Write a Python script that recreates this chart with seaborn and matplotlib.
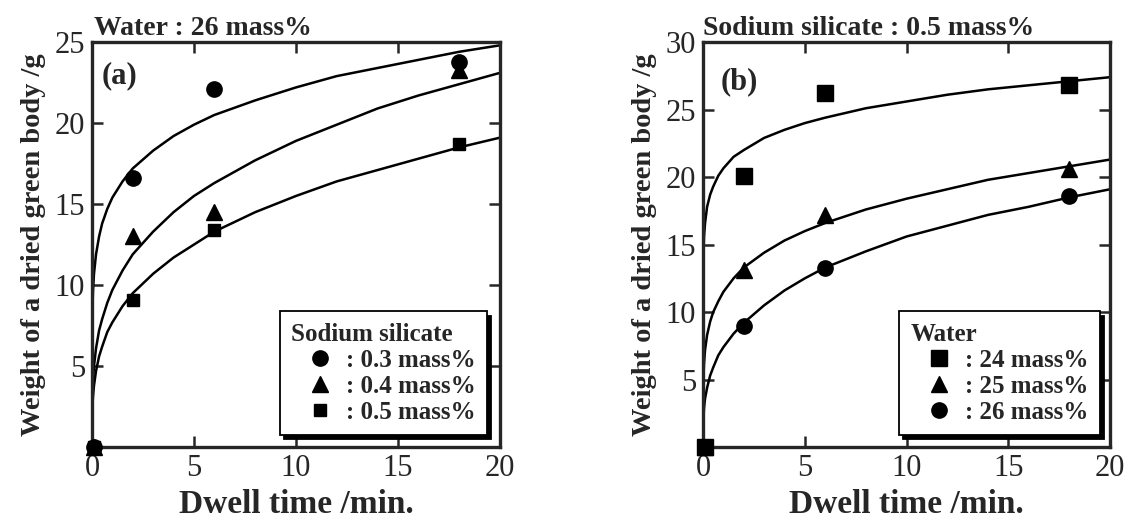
import numpy as np
import pandas as pd
import matplotlib
matplotlib.use('Agg')
import matplotlib.pyplot as plt
from matplotlib.lines import Line2D
import seaborn as sns

sns.set_style('ticks')
plt.rcParams['font.family'] = ['Liberation Serif', 'DejaVu Serif']

# measured points (dwell time in min, weight in g)
t_pts = [0.1, 2, 6, 18]

# (a) water 26 mass%, sodium silicate 0.3 / 0.4 / 0.5 mass%
a_03 = [0, 16.6, 22.1, 23.8]
a_04 = [0, 13.0, 14.5, 23.3]
a_05 = [0, 9.1, 13.4, 18.7]

# (b) sodium silicate 0.5 mass%, water 24 / 25 / 26 mass%
b_24 = [0, 20.1, 26.2, 26.8]
b_25 = [0, 13.1, 17.2, 20.6]
b_26 = [0, 9.0, 13.3, 18.6]

# fitted curves
t_fit = [0, 0.005, 0.02, 0.05, 0.1, 0.2, 0.35, 0.5, 0.75, 1, 1.5, 2, 3, 4, 5,
         6, 8, 10, 12, 14, 16, 18, 20]
fit_a03 = [0, 6.6, 8.3, 9.6, 10.7, 11.9, 13.0, 13.8, 14.7, 15.4, 16.4, 17.2,
           18.3, 19.2, 19.9, 20.5, 21.4, 22.2, 22.9, 23.4, 23.9, 24.4, 24.8]
fit_a04 = [0, 2.1, 3.1, 4.1, 5.0, 6.1, 7.2, 7.9, 8.9, 9.7, 10.9, 11.9,
           13.3, 14.5, 15.5, 16.3, 17.7, 18.9, 19.9, 20.9, 21.7, 22.4, 23.1]
fit_a05 = [0, 1.5, 2.4, 3.1, 3.8, 4.7, 5.6, 6.2, 7.1, 7.7, 8.7, 9.5,
           10.7, 11.7, 12.5, 13.3, 14.5, 15.5, 16.4, 17.1, 17.8, 18.5, 19.1]
fit_b24 = [0, 12.6, 14.3, 15.6, 16.6, 17.8, 18.7, 19.3, 20.1, 20.65, 21.5, 22.0,
           22.9, 23.5, 24.0, 24.4, 25.1, 25.6, 26.1, 26.5, 26.8, 27.1, 27.4]
fit_b25 = [0, 3.9, 5.2, 6.2, 7.2, 8.3, 9.3, 10.0, 10.8, 11.5, 12.5, 13.3,
           14.4, 15.3, 16.0, 16.6, 17.6, 18.4, 19.1, 19.8, 20.3, 20.8, 21.3]
fit_b26 = [0, 1.4, 2.1, 2.9, 3.6, 4.4, 5.3, 5.9, 6.8, 7.4, 8.4, 9.2,
           10.5, 11.6, 12.5, 13.3, 14.5, 15.6, 16.4, 17.2, 17.8, 18.5, 19.1]

legend_a = [': 0.3 mass%', ': 0.4 mass%', ': 0.5 mass%']
legend_b = [': 24 mass%', ': 25 mass%', ': 26 mass%']

fig = plt.figure(figsize=(11.31, 5.26), dpi=100)
ax1 = fig.add_axes([0.0813, 0.150, 0.3607, 0.770])
ax2 = fig.add_axes([0.6216, 0.150, 0.3600, 0.770])


def draw_panel(ax, fits, pts, markers, sizes, order):
    for f in fits:
        sns.lineplot(x=t_fit, y=f, ax=ax, color='black', linewidth=1.8,
                     sort=False, estimator=None)
    for i in order:
        ax.plot(t_pts, pts[i], linestyle='none', marker=markers[i],
                markersize=sizes[i], color='black', clip_on=False, zorder=5)


draw_panel(ax1, [fit_a03, fit_a04, fit_a05], [a_03, a_04, a_05],
           ['o', '^', 's'], [11, 11, 9], [2, 1, 0])
draw_panel(ax2, [fit_b24, fit_b25, fit_b26], [b_24, b_25, b_26],
           ['s', '^', 'o'], [12, 11, 11], [2, 1, 0])

for ax, ymax in [(ax1, 25), (ax2, 30)]:
    ax.set_xlim(0, 20)
    ax.set_ylim(0, ymax)
    ax.set_xticks([0, 5, 10, 15, 20])
    ax.set_yticks(list(range(5, ymax + 1, 5)))
    ax.tick_params(direction='in', length=8, width=1.8, top=True, right=True,
                   labelsize=22, pad=5)
    for s in ax.spines.values():
        s.set_linewidth(2.4)
        s.set_visible(True)
    ax.set_xlabel('Dwell time /min.', fontsize=24, fontweight='bold', labelpad=4)
    ax.set_ylabel('Weight of a dried green body /g', fontsize=20.5,
                  fontweight='bold', labelpad=6)

ax1.text(0.45, 22.9, '(a)', fontsize=22, fontweight='bold', va='center')
ax2.text(0.84, 27.1, '(b)', fontsize=22, fontweight='bold', va='center')
ax1.set_title('Water : 26 mass%', fontsize=20, fontweight='bold', loc='left',
              pad=5, x=0.005)
ax2.set_title('Sodium silicate : 0.5 mass%', fontsize=20, fontweight='bold',
              loc='left', pad=5, x=0.0)


def add_legend(ax, title, labels, markers, sizes, anchor):
    handles = [Line2D([], [], linestyle='none', marker=m, markersize=s,
                      color='black') for m, s in zip(markers, sizes)]
    leg = ax.legend(handles, labels, title=title, loc='lower right',
                    bbox_to_anchor=anchor, frameon=True, fancybox=False,
                    edgecolor='black',
                    shadow={'color': 'black', 'alpha': 1, 'ox': 3, 'oy': -3},
                    prop={'size': 18, 'weight': 'bold'},
                    title_fontproperties={'size': 18, 'weight': 'bold'},
                    alignment='left', handlelength=2.3, handletextpad=-0.1,
                    labelspacing=0.12, borderpad=0.45, borderaxespad=0,
                    framealpha=1)
    leg.get_frame().set_linewidth(1.3)
    return leg


add_legend(ax1, 'Sodium silicate', legend_a, ['o', '^', 's'], [11, 11, 9],
           (0.968, 0.03))
add_legend(ax2, 'Water', legend_b, ['s', '^', 'o'], [12, 11, 11],
           (0.975, 0.03))

plt.savefig('out.png', dpi=100)
